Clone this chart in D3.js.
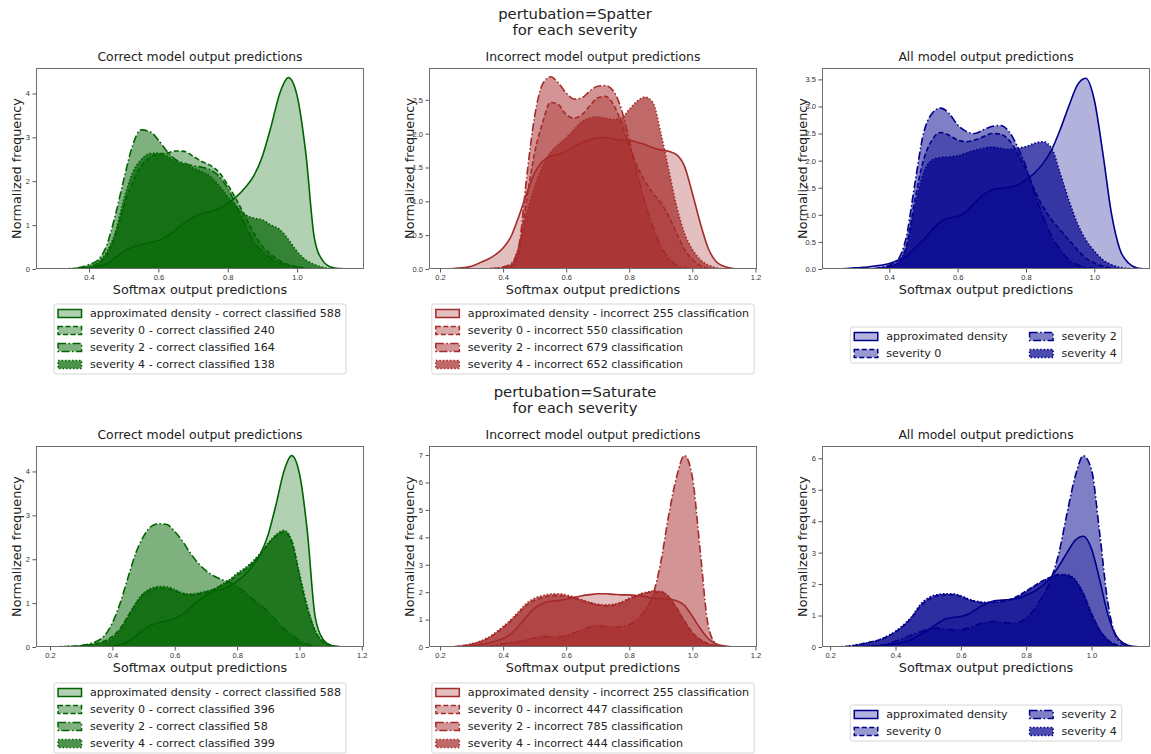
<!DOCTYPE html>
<html>
<head>
<meta charset="utf-8">
<script src="https://cdn.jsdelivr.net/npm/d3@7"></script>
<style>
	body { margin: 0; background: #fff; }
	svg { font-family: "DejaVu Sans", sans-serif; }
	.axis text { font-size: 7.5px; fill: #333; }
	.axis line { stroke: #555; }
	.frame { fill: none; stroke: #6e6e6e; stroke-width: 1; }
	.ptitle { font-size: 12.4px; fill: #222; }
	.label { font-size: 12.8px; fill: #222; }
	.suptitle { font-size: 14.8px; fill: #222; }
	.legend text { font-size: 11.1px; fill: #222; }
</style>
</head>
<body>
<svg id="chart" width="1151" height="754"></svg>
<script>
// shared x grid of the density estimates (softmax output)
const grid = [0.2, 0.225, 0.25, 0.275, 0.3, 0.325, 0.35, 0.375,
	0.4, 0.425, 0.45, 0.475, 0.5, 0.525, 0.55, 0.575,
	0.6, 0.625, 0.65, 0.675, 0.7, 0.725, 0.75, 0.775,
	0.8, 0.825, 0.85, 0.875, 0.9, 0.925, 0.95, 0.975,
	1.0, 1.025, 1.05, 1.075, 1.1, 1.125, 1.15];

// approximated densities (same in both perturbations)
const correctApprox = [null, null, null, null, 0, 0, 0.005, 0.01,
	0.02, 0.05, 0.12, 0.25, 0.4, 0.5, 0.56, 0.6,
	0.65, 0.75, 0.9, 1.05, 1.18, 1.27, 1.31, 1.38,
	1.5, 1.65, 1.85, 2.12, 2.57, 3.25, 4.0, 4.36,
	3.95, 2.65, 0.7, 0.18, 0.04, 0.01, 0];
const incorrectApprox = [null, 0, 0.01, 0.02, 0.04, 0.09, 0.14, 0.21,
	0.31, 0.48, 0.78, 1.12, 1.42, 1.59, 1.67, 1.69,
	1.74, 1.81, 1.87, 1.91, 1.94, 1.94, 1.92, 1.9,
	1.9, 1.87, 1.84, 1.79, 1.76, 1.74, 1.69, 1.52,
	1.12, 0.68, 0.31, 0.11, 0.04, 0.01, 0];
const allApprox = [null, null, 0, 0.01, 0.02, 0.03, 0.05, 0.07,
	0.1, 0.16, 0.24, 0.39, 0.54, 0.72, 0.88, 0.94,
	0.97, 1.06, 1.22, 1.37, 1.46, 1.49, 1.51, 1.55,
	1.65, 1.77, 1.95, 2.2, 2.57, 3.0, 3.39, 3.52,
	3.12, 2.14, 1.03, 0.36, 0.11, 0.02, 0];

// Spatter
const spatterCorrect0 = [null, null, null, null, null, null, 0, 0.01,
	0.04, 0.12, 0.3, 0.75, 1.43, 1.96, 2.34, 2.53,
	2.62, 2.64, 2.69, 2.68, 2.57, 2.45, 2.36, 2.2,
	1.92, 1.58, 1.2, 0.82, 0.52, 0.33, 0.19, 0.1,
	0.05, 0.02, 0.005, 0, null, null, null];
const spatterCorrect2 = [null, null, null, null, null, 0, 0.01, 0.04,
	0.1, 0.2, 0.52, 1.2, 2.03, 2.8, 3.17, 3.13,
	2.94, 2.68, 2.49, 2.41, 2.35, 2.32, 2.26, 2.11,
	1.84, 1.43, 1.01, 0.63, 0.4, 0.25, 0.14, 0.08,
	0.04, 0.01, 0, null, null, null, null];
const spatterCorrect4 = [null, null, null, null, 0, 0.005, 0.01, 0.03,
	0.06, 0.15, 0.38, 0.82, 1.58, 2.19, 2.49, 2.63,
	2.64, 2.57, 2.45, 2.38, 2.3, 2.22, 2.11, 1.9,
	1.65, 1.43, 1.24, 1.16, 1.12, 1.0, 0.9, 0.67,
	0.4, 0.21, 0.1, 0.04, 0.01, 0.005, 0];
const spatterIncorrect0 = [null, null, null, null, null, null, 0, 0.01,
	0.02, 0.04, 0.24, 1.03, 1.72, 2.16, 2.46, 2.43,
	2.28, 2.23, 2.28, 2.41, 2.53, 2.55, 2.43, 2.16,
	1.81, 1.52, 1.3, 1.12, 0.98, 0.78, 0.53, 0.29,
	0.14, 0.05, 0.01, 0, null, null, null];
const spatterIncorrect2 = [null, null, null, null, null, null, 0, 0.01,
	0.03, 0.08, 0.34, 1.37, 2.26, 2.73, 2.84, 2.75,
	2.6, 2.51, 2.53, 2.63, 2.7, 2.71, 2.63, 2.36,
	1.91, 1.42, 0.98, 0.63, 0.34, 0.16, 0.06, 0.02,
	0, null, null, null, null, null, null];
const spatterIncorrect4 = [null, null, null, null, null, null, 0, 0.01,
	0.02, 0.06, 0.34, 0.83, 1.22, 1.52, 1.72, 1.84,
	1.94, 2.06, 2.18, 2.23, 2.25, 2.23, 2.21, 2.23,
	2.36, 2.48, 2.54, 2.46, 2.01, 1.47, 0.93, 0.53,
	0.29, 0.14, 0.06, 0.02, 0, null, null];
const spatterAll0 = [null, null, null, null, null, null, 0, 0.02,
	0.05, 0.11, 0.42, 1.28, 2.01, 2.38, 2.52, 2.47,
	2.38, 2.35, 2.38, 2.44, 2.5, 2.49, 2.38, 2.14,
	1.83, 1.46, 1.15, 0.91, 0.72, 0.54, 0.36, 0.2,
	0.11, 0.05, 0.02, 0, null, null, null];
const spatterAll2 = [null, null, null, null, null, null, 0, 0.03,
	0.07, 0.17, 0.6, 1.58, 2.5, 2.87, 2.97, 2.87,
	2.66, 2.54, 2.5, 2.57, 2.63, 2.65, 2.54, 2.26,
	1.89, 1.4, 0.97, 0.6, 0.36, 0.17, 0.08, 0.03,
	0.01, 0, null, null, null, null, null];
const spatterAll4 = [null, null, null, null, null, null, 0, 0.02,
	0.05, 0.11, 0.42, 1.15, 1.77, 2.01, 2.06, 2.07,
	2.09, 2.14, 2.19, 2.23, 2.25, 2.23, 2.21, 2.23,
	2.26, 2.32, 2.35, 2.23, 1.77, 1.28, 0.85, 0.54,
	0.33, 0.17, 0.08, 0.03, 0.01, 0, null];

// Saturate
const saturateCorrect0 = [0, 0.005, 0.01, 0.02, 0.03, 0.05, 0.08, 0.14,
	0.24, 0.42, 0.7, 0.98, 1.2, 1.3, 1.34, 1.33,
	1.28, 1.21, 1.18, 1.2, 1.25, 1.31, 1.4, 1.5,
	1.63, 1.76, 1.92, 2.12, 2.34, 2.53, 2.62, 2.4,
	1.62, 0.88, 0.36, 0.12, 0.03, 0.01, 0];
const saturateCorrect2 = [null, null, 0, 0.01, 0.03, 0.07, 0.13, 0.26,
	0.55, 1.0, 1.58, 2.14, 2.52, 2.75, 2.81, 2.79,
	2.63, 2.41, 2.14, 1.91, 1.74, 1.62, 1.54, 1.48,
	1.38, 1.25, 1.1, 0.95, 0.8, 0.6, 0.42, 0.28,
	0.15, 0.06, 0.02, 0, null, null, null];
const saturateCorrect4 = [0, 0.005, 0.01, 0.02, 0.03, 0.04, 0.07, 0.12,
	0.2, 0.39, 0.7, 1.0, 1.23, 1.34, 1.38, 1.37,
	1.31, 1.23, 1.21, 1.23, 1.27, 1.32, 1.42, 1.53,
	1.68, 1.8, 1.95, 2.14, 2.37, 2.56, 2.66, 2.44,
	1.68, 0.93, 0.39, 0.13, 0.04, 0.01, 0];
const saturateIncorrect0 = [null, 0, 0.02, 0.05, 0.1, 0.18, 0.3, 0.48,
	0.7, 0.95, 1.24, 1.52, 1.7, 1.8, 1.86, 1.87,
	1.84, 1.77, 1.68, 1.6, 1.53, 1.5, 1.52, 1.6,
	1.74, 1.87, 1.96, 2.0, 2.0, 1.82, 1.42, 0.95,
	0.53, 0.27, 0.12, 0.05, 0.01, 0, null];
const saturateIncorrect2 = [null, null, null, null, 0, 0.01, 0.02, 0.06,
	0.12, 0.16, 0.2, 0.27, 0.33, 0.39, 0.37, 0.36,
	0.41, 0.51, 0.63, 0.73, 0.78, 0.75, 0.73, 0.75,
	0.81, 1.0, 1.35, 1.9, 3.1, 4.8, 6.2, 6.98,
	6.2, 3.5, 0.8, 0.12, 0.02, 0, null];
const saturateIncorrect4 = [null, 0, 0.02, 0.06, 0.12, 0.2, 0.33, 0.52,
	0.75, 1.0, 1.3, 1.6, 1.78, 1.87, 1.93, 1.94,
	1.9, 1.82, 1.72, 1.63, 1.56, 1.54, 1.56, 1.64,
	1.78, 1.9, 1.99, 2.04, 2.03, 1.84, 1.42, 0.93,
	0.51, 0.27, 0.12, 0.05, 0.02, 0, null];
const saturateAll0 = [null, 0, 0.02, 0.05, 0.1, 0.16, 0.22, 0.33,
	0.48, 0.68, 0.94, 1.28, 1.5, 1.62, 1.66, 1.66,
	1.6, 1.5, 1.43, 1.4, 1.42, 1.45, 1.51, 1.62,
	1.78, 1.94, 2.1, 2.22, 2.3, 2.28, 2.1, 1.68,
	1.05, 0.53, 0.22, 0.07, 0.02, 0, null];
const saturateAll2 = [null, null, null, null, 0, 0.02, 0.04, 0.1,
	0.18, 0.28, 0.39, 0.48, 0.57, 0.6, 0.57, 0.55,
	0.55, 0.6, 0.71, 0.78, 0.81, 0.78, 0.76, 0.78,
	0.92, 1.19, 1.61, 2.14, 2.98, 4.25, 5.42, 6.08,
	5.63, 3.62, 1.4, 0.34, 0.07, 0.01, 0];
const saturateAll4 = [null, 0, 0.02, 0.06, 0.11, 0.16, 0.23, 0.35,
	0.5, 0.71, 0.97, 1.34, 1.56, 1.66, 1.69, 1.69,
	1.63, 1.52, 1.45, 1.42, 1.43, 1.45, 1.5, 1.61,
	1.77, 1.93, 2.08, 2.21, 2.3, 2.3, 2.14, 1.71,
	1.08, 0.55, 0.23, 0.07, 0.02, 0, null];

// legend labels
const spatterCorrectLabels = ["approximated density - correct classified 588", "severity 0 - correct classified 240",
	"severity 2 - correct classified 164", "severity 4 - correct classified 138"];
const spatterIncorrectLabels = ["approximated density - incorrect 255 classification", "severity 0 - incorrect 550 classification",
	"severity 2 - incorrect 679 classification", "severity 4 - incorrect 652 classification"];
const saturateCorrectLabels = ["approximated density - correct classified 588", "severity 0 - correct classified 396",
	"severity 2 - correct classified 58", "severity 4 - correct classified 399"];
const saturateIncorrectLabels = ["approximated density - incorrect 255 classification", "severity 0 - incorrect 447 classification",
	"severity 2 - incorrect 785 classification", "severity 4 - incorrect 444 classification"];
const allLabels = ["approximated density", "severity 0", "severity 2", "severity 4"];

// ticks
const xTicksShort = [0.4, 0.6, 0.8, 1.0];
const xTicksLong = [0.2, 0.4, 0.6, 0.8, 1.0, 1.2];
const xTicksMid = [0.2, 0.4, 0.6, 0.8, 1.0];
const yTicks4 = [0, 1, 2, 3, 4];
const yTicks25 = [0, 0.5, 1.0, 1.5, 2.0, 2.5];
const yTicks35 = [0, 0.5, 1.0, 1.5, 2.0, 2.5, 3.0, 3.5];
const yTicks7 = [0, 1, 2, 3, 4, 5, 6, 7];
const yTicks6 = [0, 1, 2, 3, 4, 5, 6];

const kindColors = { correct: "#006400", incorrect: "#a52a2a", all: "#00008b" };
const kindTitles = {
	correct: "Correct model output predictions",
	incorrect: "Incorrect model output predictions",
	all: "All model output predictions"
};
const fillAlphas = [0.3, 0.4, 0.5, 0.7];
const lineDashes = [null, "5,2.5", "8,2.5,1.5,2.5", "1.5,2"];

const columnsX = [36, 429, 822];
const panelWidth = 328;
const panelHeight = 201;

const rows = [
	{
		suptitle: ["pertubation=Spatter", "for each severity"],
		top: 68,
		legendTops: [304, 304, 327],
		panels: [
			{ kind: "correct", curves: [correctApprox, spatterCorrect0, spatterCorrect2, spatterCorrect4], labels: spatterCorrectLabels,
				xDomain: [0.247, 1.193], xTicks: xTicksShort, yDomain: [0, 4.58], yTicks: yTicks4, yFormat: "d", ncol: 1 },
			{ kind: "incorrect", curves: [incorrectApprox, spatterIncorrect0, spatterIncorrect2, spatterIncorrect4], labels: spatterIncorrectLabels,
				xDomain: [0.165, 1.205], xTicks: xTicksLong, yDomain: [0, 2.97], yTicks: yTicks25, yFormat: ".1f", ncol: 1 },
			{ kind: "all", curves: [allApprox, spatterAll0, spatterAll2, spatterAll4], labels: allLabels,
				xDomain: [0.203, 1.163], xTicks: xTicksShort, yDomain: [0, 3.71], yTicks: yTicks35, yFormat: ".1f", ncol: 2 }
		]
	},
	{
		suptitle: ["pertubation=Saturate", "for each severity"],
		top: 446,
		legendTops: [683, 683, 705],
		panels: [
			{ kind: "correct", curves: [correctApprox, saturateCorrect0, saturateCorrect2, saturateCorrect4], labels: saturateCorrectLabels,
				xDomain: [0.155, 1.207], xTicks: xTicksLong, yDomain: [0, 4.58], yTicks: yTicks4, yFormat: "d", ncol: 1 },
			{ kind: "incorrect", curves: [incorrectApprox, saturateIncorrect0, saturateIncorrect2, saturateIncorrect4], labels: saturateIncorrectLabels,
				xDomain: [0.165, 1.205], xTicks: xTicksLong, yDomain: [0, 7.33], yTicks: yTicks7, yFormat: "d", ncol: 1 },
			{ kind: "all", curves: [allApprox, saturateAll0, saturateAll2, saturateAll4], labels: allLabels,
				xDomain: [0.175, 1.179], xTicks: xTicksMid, yDomain: [0, 6.39], yTicks: yTicks6, yFormat: "d", ncol: 2 }
		]
	}
];

let clipCount = 0;

class DensityPanel {
	constructor(parent, spec, left, top, legendTop) {
		this.spec = spec;
		this.color = kindColors[spec.kind];
		this.g = parent.append("g").attr("transform", `translate(${left},${top})`);
		this.createScales();
		this.drawCurves();
		this.drawAxes();
		this.drawLegend(legendTop - top);
	}

	createScales() {
		this.x = d3.scaleLinear().domain(this.spec.xDomain).range([0, panelWidth]);
		this.y = d3.scaleLinear().domain(this.spec.yDomain).range([panelHeight, 0]);
	}

	drawCurves() {
		const clipId = "clip" + clipCount++;
		this.g
			.append("clipPath")
			.attr("id", clipId)
			.append("rect")
			.attr("width", panelWidth)
			.attr("height", panelHeight);
		const plot = this.g.append("g").attr("clip-path", `url(#${clipId})`);

		const area = d3
			.area()
			.defined(d => d[1] !== null)
			.x(d => this.x(d[0]))
			.y0(this.y(0))
			.y1(d => this.y(d[1]))
			.curve(d3.curveMonotoneX);
		const line = area.lineY1();

		this.spec.curves.forEach((values, i) => {
			const pts = grid.map((gx, j) => [gx, values[j]]);
			plot
				.append("path")
				.datum(pts)
				.attr("d", area)
				.attr("fill", this.color)
				.attr("fill-opacity", fillAlphas[i]);
			plot
				.append("path")
				.datum(pts)
				.attr("d", line)
				.attr("fill", "none")
				.attr("stroke", this.color)
				.attr("stroke-width", 1.6)
				.attr("stroke-dasharray", lineDashes[i]);
		});
	}

	drawAxes() {
		const xAxis = d3
			.axisBottom(this.x)
			.tickValues(this.spec.xTicks)
			.tickSize(3.5)
			.tickPadding(2)
			.tickFormat(d3.format(".1f"));
		const yAxis = d3
			.axisLeft(this.y)
			.tickValues(this.spec.yTicks)
			.tickSize(3.5)
			.tickPadding(2.5)
			.tickFormat(d3.format(this.spec.yFormat));
		this.g
			.append("g")
			.attr("class", "axis")
			.attr("transform", `translate(0,${panelHeight})`)
			.call(xAxis);
		this.g.append("g").attr("class", "axis").call(yAxis);
		this.g.selectAll(".axis .domain").remove();

		this.g
			.append("rect")
			.attr("class", "frame")
			.attr("x", 0.5)
			.attr("y", 0.5)
			.attr("width", panelWidth - 1)
			.attr("height", panelHeight - 1);

		this.g
			.append("text")
			.attr("class", "ptitle")
			.attr("x", panelWidth / 2)
			.attr("y", -7)
			.attr("text-anchor", "middle")
			.text(kindTitles[this.spec.kind]);
		this.g
			.append("text")
			.attr("class", "label")
			.attr("x", panelWidth / 2)
			.attr("y", panelHeight + 25)
			.attr("text-anchor", "middle")
			.text("Softmax output predictions");
		this.g
			.append("text")
			.attr("class", "label")
			.attr("transform", "rotate(-90)")
			.attr("x", -panelHeight / 2)
			.attr("y", -15)
			.attr("text-anchor", "middle")
			.text("Normalized frequency");
	}

	drawLegend(top) {
		const labels = this.spec.labels;
		const ncol = this.spec.ncol;
		const nrow = Math.ceil(labels.length / ncol);
		const rowGap = 17, padY = 9.5, padX = 4, handleW = 23.5, handleH = 8, textGap = 8.5, colGap = 22;

		const lg = this.g.append("g").attr("class", "legend");
		const box = lg.append("rect");
		const items = lg
			.selectAll("g.item")
			.data(labels)
			.join("g")
			.attr("class", "item");
		items
			.append("rect")
			.attr("y", -handleH / 2)
			.attr("width", handleW)
			.attr("height", handleH)
			.attr("fill", this.color)
			.attr("fill-opacity", (d, i) => fillAlphas[i])
			.attr("stroke", this.color)
			.attr("stroke-width", 1.5)
			.attr("stroke-dasharray", (d, i) => lineDashes[i]);
		items
			.append("text")
			.attr("x", handleW + textGap)
			.attr("dy", "0.35em")
			.text(d => d);

		// column widths from the rendered text
		const widths = items.select("text").nodes().map(n => n.getComputedTextLength());
		const colStarts = [];
		let cx = padX;
		for (let c = 0; c < ncol; c++) {
			colStarts.push(cx);
			const colMax = d3.max(widths.filter((w, i) => Math.floor(i / nrow) === c));
			cx += handleW + textGap + colMax + (c < ncol - 1 ? colGap : 5);
		}
		const totalW = cx;
		const totalH = padY * 2 + (nrow - 1) * rowGap;
		const left = panelWidth / 2 - totalW / 2;

		items.attr("transform", (d, i) => {
			const c = Math.floor(i / nrow), r = i % nrow;
			return `translate(${left + colStarts[c]},${top + padY + r * rowGap})`;
		});
		box
			.attr("x", left)
			.attr("y", top)
			.attr("width", totalW)
			.attr("height", totalH)
			.attr("rx", 2)
			.attr("fill", "#fff")
			.attr("fill-opacity", 0.8)
			.attr("stroke", "#d6d6d6");
	}
}

const svg = d3.select("#chart");

rows.forEach(row => {
	const sup = svg
		.append("text")
		.attr("class", "suptitle")
		.attr("x", 575)
		.attr("y", row.top - 49)
		.attr("text-anchor", "middle");
	sup.append("tspan").attr("x", 575).text(row.suptitle[0]);
	sup.append("tspan").attr("x", 575).attr("dy", 16).text(row.suptitle[1]);

	row.panels.forEach((spec, i) => {
		new DensityPanel(svg, spec, columnsX[i], row.top, row.legendTops[i]);
	});
});
</script>
</body>
</html>
